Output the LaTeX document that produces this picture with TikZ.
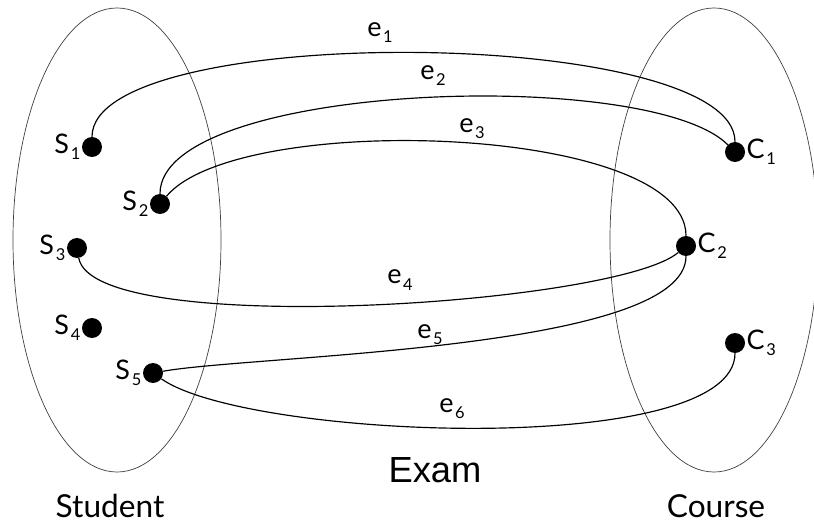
\documentclass[tikz,border=0pt]{standalone}
\usepackage{fontspec}
\setmainfont{Lato}
\newfontfamily\examfont{Liberation Sans}
\usepackage{tikz}
\usetikzlibrary{positioning,shapes.geometric}
\newcommand{\sublab}[2]{#1\kern1.5pt\raisebox{-0.45ex}{\fontsize{14}{14}\selectfont #2}}

\begin{document}
\begin{tikzpicture}[x=0.03cm, y=0.03cm,
  set/.style={draw=black!75, ellipse, line width=0.6pt, minimum width=6.24cm, minimum height=13.92cm, inner sep=0pt},
  dot/.style={circle, fill=black, minimum size=0.6cm, inner sep=0pt},
  vlab/.style={font=\fontsize{23}{23}\selectfont, inner sep=1pt},
  elab/.style={font=\fontsize{23}{23}\selectfont, inner sep=1pt},
  setname/.style={font=\fontsize{27}{27}\selectfont},
  edge/.style={line width=1pt}]
\useasboundingbox (0,0) rectangle (814,525);
\node[set] (stu) at (117,285) {};
\node[set] (crs) at (714,285) {};
\node[dot, label={[vlab]left:\sublab{S}{1}}]  (s1) at (92,378) {};
\node[dot, label={[vlab]left:\sublab{S}{2}}]  (s2) at (160,321) {};
\node[dot, label={[vlab]left:\sublab{S}{3}}]  (s3) at (77,277) {};
\node[dot, label={[vlab]left:\sublab{S}{4}}]  (s4) at (92,197) {};
\node[dot, label={[vlab]left:\sublab{S}{5}}]  (s5) at (153,152) {};
\node[dot, label={[vlab]right:\sublab{C}{1}}] (c1) at (735,373) {};
\node[dot, label={[vlab]right:\sublab{C}{2}}] (c2) at (686,279) {};
\node[dot, label={[vlab]right:\sublab{C}{3}}] (c3) at (735,182) {};
\draw[edge] (s1) to[out=90,in=90,looseness=0.46] (c1);
\draw[edge] (s2) to[out=90,in=135,looseness=0.5] (c1);
\draw[edge] (s2) to[out=50,in=90,looseness=0.55] (c2);
\draw[edge] (s3) to[out=-80,in=-140,looseness=0.35] (c2);
\draw[edge] (s5) to[out=10,in=-90,looseness=0.45] (c2);
\draw[edge] (s5) to[out=-35,in=-90,looseness=0.47] (c3);
\node[elab] (l1) at (380,492) {\sublab{e}{1}};
\node[elab] (l2) at (433,449) {\sublab{e}{2}};
\node[elab] (l3) at (472,396) {\sublab{e}{3}};
\node[elab] (l4) at (400,245) {\sublab{e}{4}};
\node[elab] (l5) at (430,190) {\sublab{e}{5}};
\node[elab] (l6) at (452,116) {\sublab{e}{6}};
\node[font=\examfont\fontsize{31}{31}\selectfont] (exam) at (435,55) {Exam};
\node[setname] (stuname) at (110,19) {Student};
\node[setname] (crsname) at (716,19) {Course};
\end{tikzpicture}
\end{document}
